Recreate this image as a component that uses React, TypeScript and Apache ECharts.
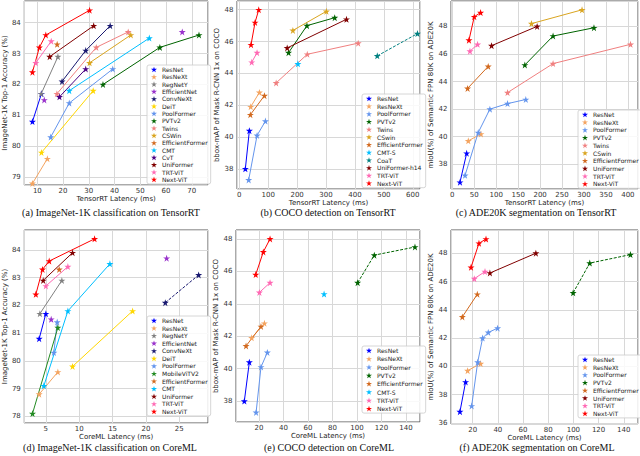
import React, { useEffect, useRef } from "react";
import * as echarts from "echarts";

const STAR =
  "path://M50,2 L61.8,37.6 L99.5,37.6 L69,59.6 L80.6,95.4 L50,73.2 L19.4,95.4 L31,59.6 L0.5,37.6 L38.2,37.6 Z";

// ---------- (a) ImageNet-1K on TensorRT ----------
const A_ResNet = [[8.1, 80.8], [11.6, 81.7]];
const A_ResNeXt = [[8.1, 78.8], [13.9, 79.6]];
const A_RegNetY = [[11.5, 81.7], [18.0, 82.9]];
const A_EfficientNet = [[12.7, 81.5], [66.3, 83.7]];
const A_ConvNeXt = [[19.6, 82.1], [28.8, 83.1], [38.3, 83.9]];
const A_DeiT = [[11.6, 79.8], [31.7, 81.8]];
const A_PoolFormer = [[15.2, 80.3], [22.4, 81.4], [39.3, 82.5]];
const A_PVTv2 = [[35.5, 82.0], [57.6, 83.2], [72.8, 83.6]];
const A_Twins = [[17.6, 81.7], [32.9, 83.2], [45.3, 83.7]];
const A_CSWin = [[30.3, 82.7], [46.3, 83.6]];
const A_EfficientFormer = [[17.7, 83.3]];
const A_CMT = [[22.4, 81.8], [53.5, 83.5]];
const A_CvT = [[18.6, 81.6], [28.8, 82.5]];
const A_UniFormer = [[14.8, 82.9], [31.9, 83.9]];
const A_TRTViT = [[9.4, 82.7], [15.4, 83.4]];
const A_NextViT = [[8.1, 82.4], [10.8, 83.2], [13.3, 83.6], [30.3, 84.4]];

// ---------- (b) COCO on TensorRT ----------
const B_ResNet = [[20.9, 38.0], [34.8, 40.4]];
const B_ResNeXt = [[39.4, 41.9], [69.5, 42.8]];
const B_PoolFormer = [[32.4, 37.3], [61.4, 40.1], [90.4, 41.0]];
const B_PVTv2 = [[170.3, 45.3], [234, 47.0], [330, 47.5]];
const B_Twins = [[127.4, 43.4], [235.1, 45.2], [411.2, 45.9]];
const B_CSwin = [[185.3, 46.7], [301.2, 47.9]];
const B_EfficientFormer = [[38.2, 41.4], [86.9, 42.6]];
const B_CMTS = [[202.7, 44.6]];
const B_CoaT = [[477.2, 45.1], [616.2, 46.5]];
const B_UniFormerH14 = [[165.6, 45.6], [370.7, 47.4]];
const B_TRTViT = [[42.9, 44.7], [61.4, 45.3]];
const B_NextViT = [[40.5, 45.8], [54.4, 47.2], [67.2, 48.0]];

// ---------- (c) ADE20K on TensorRT ----------
const C_ResNet = [[17.5, 36.7], [32.7, 38.8]];
const C_ResNeXt = [[36.4, 39.7], [65.2, 40.2]];
const C_PoolFormer = [[29, 37.2], [59, 40.3], [85.6, 42.0], [125.8, 42.4], [167.4, 42.7]];
const C_PVTv2 = [[165.2, 45.2], [229.5, 47.3], [322.7, 47.9]];
const C_Twins = [[125.8, 43.2], [229.5, 45.3], [406, 46.7]];
const C_CSwin = [[180.3, 48.2], [295.5, 49.2]];
const C_EfficientFormer = [[34.8, 43.5], [81.8, 45.1]];
const C_UniFormer = [[89.4, 46.6], [193.2, 48.0]];
const C_TRTViT = [[40.2, 46.2], [57.6, 46.7]];
const C_NextViT = [[37.9, 47.0], [50, 48.7], [64.4, 49.0]];

// ---------- (d) ImageNet-1K on CoreML ----------
const D_ResNet = [[4.0, 80.8], [5.0, 81.7]];
const D_ResNeXt = [[4.0, 78.8], [6.8, 79.6]];
const D_RegNetY = [[4.1, 81.7], [7.4, 82.9]];
const D_EfficientNet = [[5.8, 81.5], [23.1, 83.7]];
const D_ConvNeXt = [[22.9, 82.1], [27.9, 83.1]];
const D_DeiT = [[9.0, 79.8], [18.0, 81.8]];
const D_PoolFormer = [[6.2, 80.3], [6.7, 81.4]];
const D_MobileViTV2 = [[3.0, 78.1], [6.8, 81.2]];
const D_EfficientFormer = [[7.0, 83.3]];
const D_CMT = [[4.7, 79.1], [8.3, 81.8], [14.6, 83.5]];
const D_UniFormer = [[4.6, 82.9], [9.0, 83.9]];
const D_TRTViT = [[5.0, 82.7], [8.3, 83.4]];
const D_NextViT = [[3.5, 82.4], [4.5, 83.3], [5.5, 83.6], [12.3, 84.4]];

// ---------- (e) COCO on CoreML ----------
const E_ResNet = [[8.0, 38.0], [12.1, 40.4]];
const E_ResNeXt = [[14, 41.9], [24.4, 42.8]];
const E_PoolFormer = [[17.6, 37.3], [21.6, 40.1], [26.8, 41.0]];
const E_PVTv2 = [[100.5, 45.3], [114.1, 47.0], [147.3, 47.5]];
const E_EfficientFormer = [[9.4, 41.4], [21.6, 42.6]];
const E_CMTS = [[73.1, 44.6]];
const E_TRTViT = [[20.3, 44.7], [29, 45.3]];
const E_NextViT = [[17.3, 45.8], [23.5, 47.2], [29, 48.0]];

// ---------- (f) ADE20K on CoreML ----------
const F_ResNet = [[9.9, 36.8], [14.4, 38.9]];
const F_ResNeXt = [[16, 39.7], [26.3, 40.2]];
const F_PoolFormer = [[19.2, 37.2], [24, 40.3], [27.9, 42.0], [32.4, 42.4], [39.8, 42.7]];
const F_PVTv2 = [[99.8, 45.2], [113, 47.3], [145.3, 47.9]];
const F_EfficientFormer = [[11.8, 43.5], [23.7, 45.1]];
const F_UniFormer = [[33.7, 46.6], [70.2, 48.0]];
const F_TRTViT = [[21.3, 46.2], [29.8, 46.7]];
const F_NextViT = [[18.7, 47.0], [25, 48.7], [30.6, 49.0]];

// axis ranges [min, max, step]
const X_RANGES = [
  [4.94, 76.3, 10],
  [-8, 625, 100],
  [-3, 423, 50],
  [1.77, 29.3, 5],
  [1.2, 151.4, 20],
  [2.8, 151.3, 20],
];
const Y_RANGES = [
  [78.75, 84.7, 1],
  [36.73, 48.55, 2],
  [36.21, 49.84, 2],
  [77.76, 84.72, 1],
  [36.71, 48.55, 2],
  [35.93, 49.64, 2],
];

const X_NAMES = [
  "TensorRT Latency (ms)",
  "TensorRT Latency (ms)",
  "TensorRT Latency (ms)",
  "CoreML Latency (ms)",
  "CoreML Latency (ms)",
  "CoreML Latency (ms)",
];
const Y_NAMES = [
  "ImageNet-1K Top-1 Accuracy (%)",
  "bbox-mAP of Mask R-CNN 1x on COCO",
  "mIoU(%) of Semantic FPN 80K on ADE20K",
  "ImageNet-1K Top-1 Accuracy (%)",
  "bbox-mAP of Mask R-CNN 1x on COCO",
  "mIoU(%) of Semantic FPN 80K on ADE20K",
];
const CAPTIONS = [
  "(a) ImageNet-1K classification on TensorRT",
  "(b) COCO detection on TensorRT",
  "(c) ADE20K segmentation on TensorRT",
  "(d) ImageNet-1K classification on CoreML",
  "(e) COCO detection on CoreML",
  "(f) ADE20K segmentation on CoreML",
];

const COLORS: Record<string, string> = {
  ResNet: "#0000ff",
  ResNeXt: "#f4a460",
  RegNetY: "#808080",
  EfficientNet: "#9932cc",
  ConvNeXt: "#191970",
  DeiT: "#ffd700",
  PoolFormer: "#6495ed",
  PVTv2: "#006400",
  MobileViTV2: "#228b22",
  Twins: "#f08080",
  CSWin: "#daa520",
  CSwin: "#daa520",
  EfficientFormer: "#d2691e",
  CMT: "#00bfff",
  "CMT-S": "#00bfff",
  CvT: "#4b0082",
  CoaT: "#008080",
  UniFormer: "#800000",
  "UniFormer-h14": "#800000",
  "TRT-ViT": "#ff69b4",
  "Next-ViT": "#ff0000",
};

type Entry = [string, number[][]];

const PANELS: Entry[][] = [
  [
    ["ResNet", A_ResNet], ["ResNeXt", A_ResNeXt], ["RegNetY", A_RegNetY],
    ["EfficientNet", A_EfficientNet], ["ConvNeXt", A_ConvNeXt], ["DeiT", A_DeiT],
    ["PoolFormer", A_PoolFormer], ["PVTv2", A_PVTv2], ["Twins", A_Twins],
    ["CSWin", A_CSWin], ["EfficientFormer", A_EfficientFormer], ["CMT", A_CMT],
    ["CvT", A_CvT], ["UniFormer", A_UniFormer], ["TRT-ViT", A_TRTViT], ["Next-ViT", A_NextViT],
  ],
  [
    ["ResNet", B_ResNet], ["ResNeXt", B_ResNeXt], ["PoolFormer", B_PoolFormer],
    ["PVTv2", B_PVTv2], ["Twins", B_Twins], ["CSwin", B_CSwin],
    ["EfficientFormer", B_EfficientFormer], ["CMT-S", B_CMTS], ["CoaT", B_CoaT],
    ["UniFormer-h14", B_UniFormerH14], ["TRT-ViT", B_TRTViT], ["Next-ViT", B_NextViT],
  ],
  [
    ["ResNet", C_ResNet], ["ResNeXt", C_ResNeXt], ["PoolFormer", C_PoolFormer],
    ["PVTv2", C_PVTv2], ["Twins", C_Twins], ["CSwin", C_CSwin],
    ["EfficientFormer", C_EfficientFormer], ["UniFormer", C_UniFormer],
    ["TRT-ViT", C_TRTViT], ["Next-ViT", C_NextViT],
  ],
  [
    ["ResNet", D_ResNet], ["ResNeXt", D_ResNeXt], ["RegNetY", D_RegNetY],
    ["EfficientNet", D_EfficientNet], ["ConvNeXt", D_ConvNeXt], ["DeiT", D_DeiT],
    ["PoolFormer", D_PoolFormer], ["MobileViTV2", D_MobileViTV2],
    ["EfficientFormer", D_EfficientFormer], ["CMT", D_CMT], ["UniFormer", D_UniFormer],
    ["TRT-ViT", D_TRTViT], ["Next-ViT", D_NextViT],
  ],
  [
    ["ResNet", E_ResNet], ["ResNeXt", E_ResNeXt], ["PoolFormer", E_PoolFormer],
    ["PVTv2", E_PVTv2], ["EfficientFormer", E_EfficientFormer], ["CMT-S", E_CMTS],
    ["TRT-ViT", E_TRTViT], ["Next-ViT", E_NextViT],
  ],
  [
    ["ResNet", F_ResNet], ["ResNeXt", F_ResNeXt], ["PoolFormer", F_PoolFormer],
    ["PVTv2", F_PVTv2], ["EfficientFormer", F_EfficientFormer], ["UniFormer", F_UniFormer],
    ["TRT-ViT", F_TRTViT], ["Next-ViT", F_NextViT],
  ],
];

// dashed lines: [panel, name]
const DASHED = ["1:CoaT", "3:ConvNeXt", "4:PVTv2", "5:PVTv2"];
const NO_LINE = ["EfficientNet"];

// layout
const GRIDS = [
  { left: 21, top: 1, width: 187, height: 184 },
  { left: 237, top: 1, width: 183, height: 188 },
  { left: 451, top: 1, width: 187, height: 188 },
  { left: 21, top: 230, width: 187, height: 193 },
  { left: 236, top: 230, width: 184, height: 192 },
  { left: 451, top: 230, width: 187, height: 194 },
];
const LEGEND_POS = [
  { left: 147, top: 65, gap: 1.33 },
  { left: 362, top: 94, gap: 1.7 },
  { left: 578, top: 110, gap: 1.7 },
  { left: 147, top: 316, gap: 1.58 },
  { left: 362, top: 346, gap: 2.3 },
  { left: 578, top: 355, gap: 1.7 },
];
const Y_NAME_GAP = [10, 10, 11.7, 10, 9, 11.7];
const X_NAME_GAP = [7, 6, 6, 7, 6.5, 6];
const CAPTION_POS = [
  [111, 212.5], [328, 212.5], [536, 212.5],
  [110, 447], [329, 447], [537, 447],
];

const FONT = "DejaVu Sans";

export default function App() {
  const ref = useRef<HTMLDivElement>(null);
  useEffect(() => {
    if (!ref.current) return;
    const chart = echarts.init(ref.current, undefined, { renderer: "svg" });

    const series: any[] = [];
    PANELS.forEach((entries, p) => {
      entries.forEach(([name, data]) => {
        const color = COLORS[name];
        const dashed = DASHED.includes(`${p}:${name}`);
        const noLine = NO_LINE.includes(name);
        series.push({
          type: "line",
          name,
          xAxisIndex: p,
          yAxisIndex: p,
          data,
          symbol: STAR,
          symbolSize: 7,
          showSymbol: true,
          clip: false,
          itemStyle: { color },
          lineStyle: {
            color,
            width: 1,
            type: dashed ? [3, 1.5] : "solid",
            opacity: noLine ? 0 : 1,
          },
          emphasis: { disabled: true },
          silent: true,
          z: 3,
        });
      });
    });

    const xAxis = X_RANGES.map(([min, max, step], i) => ({
      type: "value",
      gridIndex: i,
      min,
      max,
      minInterval: step,
      maxInterval: step,
      name: X_NAMES[i],
      nameLocation: "middle",
      nameGap: X_NAME_GAP[i],
      nameTextStyle: { fontFamily: FONT, fontSize: 7, color: "#222", verticalAlign: "top", lineHeight: 7 },
      axisLine: { show: false },
      axisTick: { show: false },
      axisLabel: {
        showMinLabel: false,
        showMaxLabel: false,
        fontFamily: FONT,
        fontSize: 7,
        color: "#333",
        margin: 2.5,
        lineHeight: 7,
      },
      splitLine: { show: true, lineStyle: { color: "#d8d8d8", width: 1 } },
    }));

    const yAxis = Y_RANGES.map(([min, max, step], i) => ({
      type: "value",
      gridIndex: i,
      min,
      max,
      minInterval: step,
      maxInterval: step,
      name: Y_NAMES[i],
      nameLocation: "middle",
      nameGap: Y_NAME_GAP[i],
      nameTextStyle: { fontFamily: FONT, fontSize: 7, color: "#222" },
      axisLine: { show: false },
      axisTick: { show: false },
      axisLabel: {
        showMinLabel: false,
        showMaxLabel: false,
        fontFamily: FONT,
        fontSize: 7,
        color: "#333",
        margin: 3.5,
      },
      splitLine: { show: true, lineStyle: { color: "#d8d8d8", width: 1 } },
    }));

    const grid = GRIDS.map((g) => ({
      ...g,
      show: true,
      borderColor: "#555",
      borderWidth: 1,
      backgroundColor: "transparent",
      containLabel: false,
    }));

    const legend = PANELS.map((entries, p) => ({
      orient: "vertical",
      left: LEGEND_POS[p].left,
      top: LEGEND_POS[p].top,
      data: entries.map(([n]) => n),
      icon: STAR,
      itemWidth: 6,
      itemHeight: 6,
      itemGap: LEGEND_POS[p].gap,
      selectedMode: false,
      padding: [1.5, 3, 1.5, 4],
      backgroundColor: "rgba(255,255,255,0.85)",
      borderColor: "#cccccc",
      borderWidth: 0.8,
      borderRadius: 2,
      textStyle: { fontFamily: FONT, fontSize: 6, color: "#222", lineHeight: 6 },
      z: 10,
    }));

    const graphic = CAPTIONS.map((t, i) => ({
      type: "text",
      x: CAPTION_POS[i][0],
      y: CAPTION_POS[i][1],
      style: {
        text: t,
        fontFamily: "Liberation Serif",
        fontSize: 10,
        fill: "#111",
        align: "center",
        verticalAlign: "middle",
      },
    }));

    chart.setOption({
      animation: false,
      backgroundColor: "#ffffff",
      grid,
      xAxis,
      yAxis,
      legend,
      series,
      graphic,
    });
    return () => chart.dispose();
  }, []);

  return (
    <div
      ref={ref}
      style={{ position: "fixed", left: 0, top: 0, width: 640, height: 456 }}
    />
  );
}
